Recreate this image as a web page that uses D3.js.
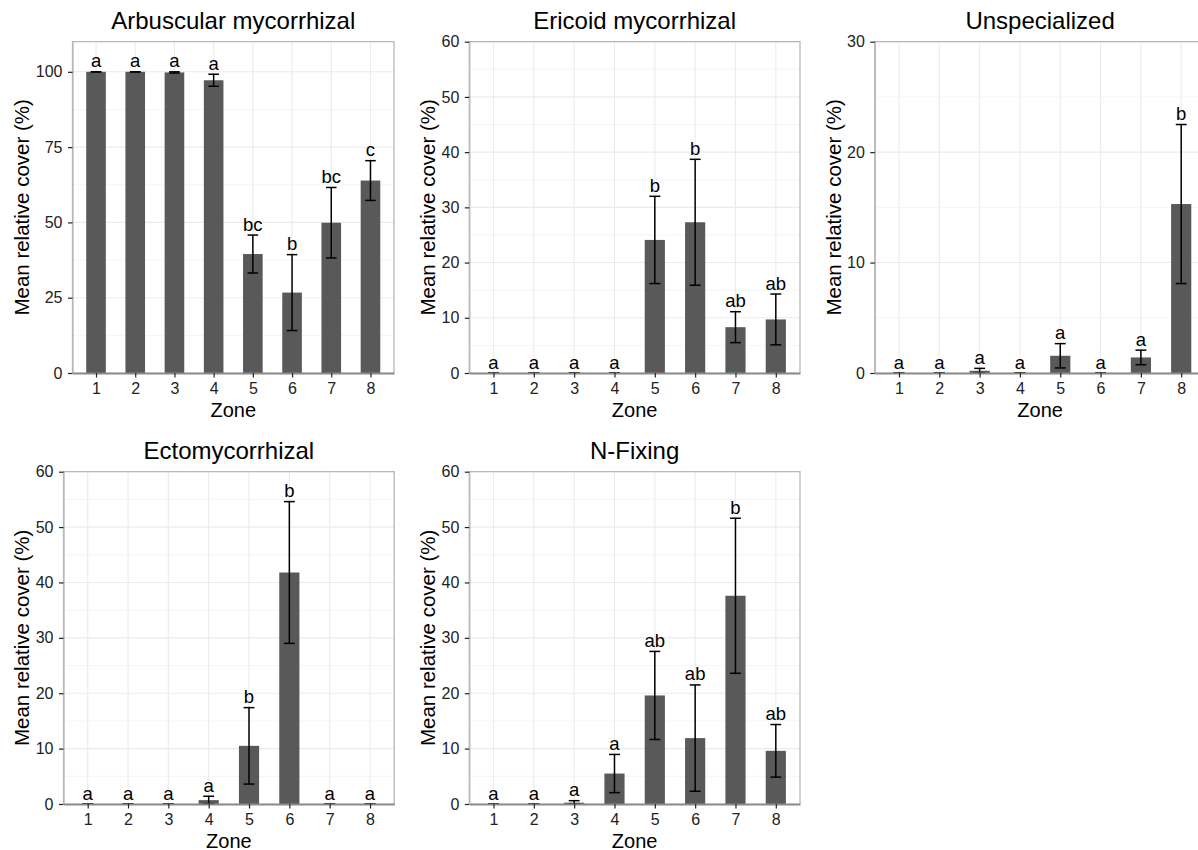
<!DOCTYPE html>
<html>
<head>
<meta charset="utf-8">
<script src="https://cdn.jsdelivr.net/npm/d3@7/dist/d3.min.js"></script>
<style>
  html, body { margin: 0; padding: 0; background: #fff; }
  svg { display: block; font-family: "Liberation Sans", Arial, Helvetica, sans-serif; }
</style>
</head>
<body>
<svg id="chart" width="1198" height="850"></svg>
<script>
// Zones along the x axis
const zones = ["1", "2", "3", "4", "5", "6", "7", "8"];

// Arbuscular mycorrhizal: mean relative cover, standard error, group letters
const amMean = [100, 100, 99.8, 97.2, 39.5, 26.7, 49.9, 63.9];
const amSE = [0, 0, 0.2, 2.0, 6.3, 12.6, 11.7, 6.6];
const amLetters = ["a", "a", "a", "a", "bc", "b", "bc", "c"];

// Ericoid mycorrhizal
const erMean = [0, 0, 0, 0, 24.1, 27.3, 8.3, 9.7];
const erSE = [0, 0, 0, 0, 7.9, 11.4, 2.8, 4.6];
const erLetters = ["a", "a", "a", "a", "b", "b", "ab", "ab"];

// Unspecialized
const unMean = [0, 0, 0.2, 0, 1.56, 0, 1.41, 15.3];
const unSE = [0, 0, 0.22, 0, 1.1, 0, 0.66, 7.2];
const unLetters = ["a", "a", "a", "a", "a", "a", "a", "b"];

// Ectomycorrhizal
const ecMean = [0, 0, 0, 0.7, 10.5, 41.8, 0, 0];
const ecSE = [0, 0, 0, 0.7, 6.9, 12.8, 0, 0];
const ecLetters = ["a", "a", "a", "a", "b", "b", "a", "a"];

// N-Fixing
const nfMean = [0, 0, 0.24, 5.5, 19.6, 11.9, 37.6, 9.6];
const nfSE = [0, 0, 0.36, 3.45, 7.95, 9.6, 14.0, 4.75];
const nfLetters = ["a", "a", "a", "a", "ab", "ab", "b", "ab"];

// y-axis tick labels for each panel
const ticks110 = [0, 25, 50, 75, 100];
const ticks60 = [0, 10, 20, 30, 40, 50, 60];
const ticks30 = [0, 10, 20, 30];

const panels = [
  { title: "Arbuscular mycorrhizal", mean: amMean, se: amSE, letters: amLetters,
    ymax: 110, ticks: ticks110, box: [72.5, 41.7, 394, 373] },
  { title: "Ericoid mycorrhizal", mean: erMean, se: erSE, letters: erLetters,
    ymax: 60, ticks: ticks60, box: [469.3, 41.7, 800, 373] },
  { title: "Unspecialized", mean: unMean, se: unSE, letters: unLetters,
    ymax: 30, ticks: ticks30, box: [874.8, 41.7, 1205.4, 373] },
  { title: "Ectomycorrhizal", mean: ecMean, se: ecSE, letters: ecLetters,
    ymax: 60, ticks: ticks60, box: [63.5, 471.7, 394.2, 804] },
  { title: "N-Fixing", mean: nfMean, se: nfSE, letters: nfLetters,
    ymax: 60, ticks: ticks60, box: [469.3, 471.7, 800, 804] }
];

const svg = d3.select("#chart");
svg.append("rect").attr("width", 1198).attr("height", 850).attr("fill", "#fff");

const barFill = "#595959";
const gridMajor = "#ebebeb";
const gridMinor = "#f5f5f5";
const borderCol = "#b8b8b8";
const axisCol = "#8a8a8a";
const textCol = "#222";

panels.forEach(p => {
  const [x0, y0, x1, y1] = p.box;
  const x = d3.scalePoint().domain(zones).range([x0, x1]).padding(0.6);
  const y = d3.scaleLinear().domain([0, p.ymax]).range([y1, y0]);
  const step = x.step();
  const g = svg.append("g");

  const data = zones.map((z, i) => ({
    zone: z, mean: p.mean[i], se: p.se[i], letter: p.letters[i]
  }));

  // minor horizontal grid at midpoints between major ticks
  const minor = [];
  for (let i = 0; i < p.ticks.length; i++) {
    const a = p.ticks[i], b = p.ticks[i + 1] !== undefined ? p.ticks[i + 1] : a + (p.ticks[1] - p.ticks[0]);
    const m = (a + b) / 2;
    if (m < p.ymax) minor.push(m);
  }
  g.selectAll(".minor").data(minor).join("line")
    .attr("x1", x0).attr("x2", x1)
    .attr("y1", d => y(d)).attr("y2", d => y(d))
    .attr("stroke", gridMinor).attr("stroke-width", 1);

  // major grid
  g.selectAll(".hmajor").data(p.ticks).join("line")
    .attr("x1", x0).attr("x2", x1)
    .attr("y1", d => y(d)).attr("y2", d => y(d))
    .attr("stroke", gridMajor).attr("stroke-width", 1.1);
  g.selectAll(".vmajor").data(zones).join("line")
    .attr("x1", d => x(d)).attr("x2", d => x(d))
    .attr("y1", y0).attr("y2", y1)
    .attr("stroke", gridMajor).attr("stroke-width", 1.1);

  // bars
  const bw = step * 0.5;
  g.selectAll(".bar").data(data).join("rect")
    .attr("x", d => x(d.zone) - bw / 2)
    .attr("width", bw)
    .attr("y", d => y(d.mean))
    .attr("height", d => y(0) - y(d.mean))
    .attr("fill", barFill);

  // error bars
  const cw = step * 0.27;
  const eb = g.selectAll(".err").data(data).join("g");
  const lo = d => Math.max(0, d.mean - d.se);
  const hi = d => d.mean + d.se;
  eb.append("line")
    .attr("x1", d => x(d.zone)).attr("x2", d => x(d.zone))
    .attr("y1", d => y(lo(d))).attr("y2", d => y(hi(d)))
    .attr("stroke", "#000").attr("stroke-width", 1.5);
  eb.append("line")
    .attr("x1", d => x(d.zone) - cw / 2).attr("x2", d => x(d.zone) + cw / 2)
    .attr("y1", d => y(hi(d))).attr("y2", d => y(hi(d)))
    .attr("stroke", "#000").attr("stroke-width", 1.5);
  eb.append("line")
    .attr("x1", d => x(d.zone) - cw / 2).attr("x2", d => x(d.zone) + cw / 2)
    .attr("y1", d => y(lo(d))).attr("y2", d => y(lo(d)))
    .attr("stroke", "#000").attr("stroke-width", 1.5);

  // group letters above the error bars
  g.selectAll(".letter").data(data).join("text")
    .attr("x", d => x(d.zone))
    .attr("y", d => y(hi(d)) - 4.5)
    .attr("text-anchor", "middle")
    .attr("font-size", 18.5)
    .attr("fill", "#000")
    .text(d => d.letter);

  // panel border (top, left, right)
  g.append("path")
    .attr("d", `M${x0},${y1}V${y0}H${x1}V${y1}`)
    .attr("fill", "none").attr("stroke", borderCol).attr("stroke-width", 1.3);

  // y axis
  const yAxis = d3.axisLeft(y).tickValues(p.ticks).tickSize(4.5).tickPadding(5.5).tickSizeOuter(0);
  const ya = g.append("g").attr("transform", `translate(${x0},0)`).call(yAxis);
  ya.select(".domain").attr("stroke", borderCol).attr("stroke-width", 1.3);
  ya.selectAll(".tick line").attr("stroke", textCol).attr("stroke-width", 1.2);
  ya.selectAll(".tick text").attr("font-size", 16).attr("fill", textCol)
    .attr("font-family", "Liberation Sans, Arial, sans-serif");

  // x axis
  const xAxis = d3.axisBottom(x).tickSize(4.5).tickPadding(5).tickSizeOuter(0);
  const xa = g.append("g").attr("transform", `translate(0,${y1})`).call(xAxis);
  xa.select(".domain").attr("stroke", axisCol).attr("stroke-width", 2);
  xa.selectAll(".tick line").attr("stroke", textCol).attr("stroke-width", 1.2);
  xa.selectAll(".tick text").attr("font-size", 16).attr("fill", textCol)
    .attr("font-family", "Liberation Sans, Arial, sans-serif");

  // width of widest y tick label, to place the y title
  let maxW = 0;
  ya.selectAll(".tick text").each(function () {
    maxW = Math.max(maxW, this.getComputedTextLength());
  });

  // panel title
  g.append("text")
    .attr("x", (x0 + x1) / 2)
    .attr("y", y0 - 13)
    .attr("text-anchor", "middle")
    .attr("font-size", 24)
    .attr("fill", "#000")
    .text(p.title);

  // x title
  g.append("text")
    .attr("x", (x0 + x1) / 2)
    .attr("y", y1 + 43.5)
    .attr("text-anchor", "middle")
    .attr("font-size", 20)
    .attr("fill", "#000")
    .text("Zone");

  // y title
  const ty = (y0 + y1) / 2;
  const tx = x0 - 10 - maxW - 6.5;
  g.append("text")
    .attr("transform", `translate(${tx},${ty}) rotate(-90)`)
    .attr("text-anchor", "middle")
    .attr("font-size", 20.5)
    .attr("fill", "#000")
    .text("Mean relative cover (%)");
});
</script>
</body>
</html>
